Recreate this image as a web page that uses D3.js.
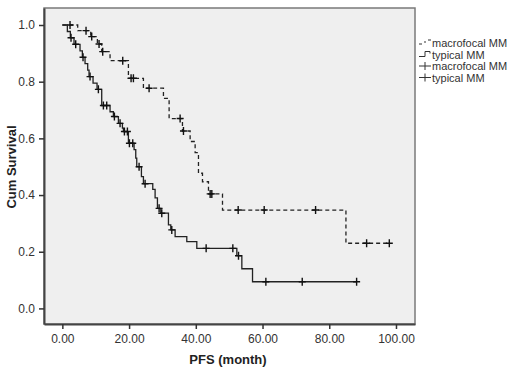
<!DOCTYPE html>
<html>
<head>
<meta charset="utf-8">
<script src="https://cdn.jsdelivr.net/npm/d3@7"></script>
<style>
body { margin: 0; background: #fff; }
text { font-family: Arial, "Liberation Sans", sans-serif; }
</style>
</head>
<body>
<script>
// typical MM: step times (months) and survival after each step
var typicalTimes = [0, 1.5, 2.4, 3.5, 5.3, 6.0, 6.8, 7.6, 8.0, 9.2, 10.4, 11.8, 14.3, 15.3, 16.8, 18.0, 18.3, 19.8, 21.5, 22.0, 22.3, 23.7, 24.3, 27.1, 27.8, 28.5, 29.5, 31.8, 32.5, 33.8, 37.3, 40.3, 52.3, 53.8, 57.0];
var typicalSurv = [1, 0.977, 0.955, 0.932, 0.909, 0.886, 0.864, 0.841, 0.818, 0.795, 0.773, 0.716, 0.694, 0.677, 0.653, 0.636, 0.624, 0.583, 0.56, 0.53, 0.50, 0.465, 0.44, 0.42, 0.39, 0.353, 0.336, 0.295, 0.277, 0.253, 0.236, 0.212, 0.186, 0.14, 0.094];
var typicalCensor = [2.6, 4.0, 6.2, 8.3, 10.8, 12.3, 13.3, 15.6, 17.3, 18.6, 19.5, 20.1, 21.1, 23.0, 24.8, 29.0, 29.8, 32.8, 43.1, 51.1, 52.8, 61.0, 71.9, 88.2];

// macrofocal MM
var macroTimes = [0, 4.6, 8.5, 10.5, 11.8, 14.3, 19.8, 24.3, 30.3, 32.0, 36.0, 38.3, 39.8, 40.8, 42.0, 43.8, 48.0, 85.0];
var macroSurv = [1, 0.98, 0.959, 0.933, 0.906, 0.874, 0.812, 0.777, 0.741, 0.67, 0.626, 0.589, 0.55, 0.477, 0.447, 0.404, 0.347, 0.23];
var macroCensor = [2.3, 7.1, 8.8, 11.0, 12.1, 18.1, 20.6, 21.3, 26.0, 35.3, 36.3, 44.3, 44.8, 52.7, 60.5, 75.9, 91.2, 98.0];

var xTicks = [0, 20, 40, 60, 80, 100];
var yTicks = [0, 0.2, 0.4, 0.6, 0.8, 1.0];
var legendLabels = ["macrofocal MM", "typical MM", "macrofocal MM", "typical MM"];

var w = 520;
var h = 373;
var plotL = 44, plotR = 415, plotT = 8, plotB = 324;

var svg = d3.select("body")
			.append("svg")
			.attr("width", w)
			.attr("height", h);

var xScale = d3.scaleLinear()
				.domain([-5.5, 105.7])
				.range([plotL, plotR]);

var yScale = d3.scaleLinear()
				.domain([-0.055, 1.06])
				.range([plotB, plotT]);

// plot background
svg.append("rect")
	.attr("x", plotL)
	.attr("y", plotT)
	.attr("width", plotR - plotL)
	.attr("height", plotB - plotT)
	.attr("fill", "#efefef")
	.attr("stroke", "#7a7a7a")
	.attr("stroke-width", 1.5);

var xAxis = d3.axisBottom(xScale)
				.tickValues(xTicks)
				.tickFormat(d3.format(".2f"))
				.tickSize(5)
				.tickSizeOuter(0);

var yAxis = d3.axisLeft(yScale)
				.tickValues(yTicks)
				.tickFormat(d3.format(".1f"))
				.tickSize(5)
				.tickSizeOuter(0);

var gx = svg.append("g")
	.attr("transform", "translate(0," + plotB + ")")
	.call(xAxis);

var gy = svg.append("g")
	.attr("transform", "translate(" + plotL + ",0)")
	.call(yAxis);

[gx, gy].forEach(function(g){
	g.select(".domain").attr("stroke", "#444").attr("stroke-width", 2);
	g.selectAll(".tick line").attr("stroke", "#333").attr("stroke-width", 1.5);
	g.selectAll(".tick text").attr("fill", "#333").attr("font-size", 12)
		.attr("font-family", "Arial, 'Liberation Sans', sans-serif");
});
gx.selectAll(".tick text").attr("dy", "0.9em");
gy.selectAll(".tick text").attr("dx", "-1px");

function stepPoints(times, surv, end){
	var pts = times.map(function(t, i){ return [t, surv[i]]; });
	pts.push([end, surv[surv.length - 1]]);
	return pts;
}

function survAt(times, surv, t){
	var s = 1;
	for (var i = 0; i < times.length; i++){
		if (times[i] <= t) s = surv[i];
	}
	return s;
}

var line = d3.line()
			.x(function(d){ return xScale(d[0]); })
			.y(function(d){ return yScale(d[1]); })
			.curve(d3.curveStepAfter);

var series = [
	{times: macroTimes, surv: macroSurv, censor: macroCensor, dash: "4,3"},
	{times: typicalTimes, surv: typicalSurv, censor: typicalCensor, dash: null}
];

series.forEach(function(s){
	var end = d3.max(s.censor);
	svg.append("path")
		.datum(stepPoints(s.times, s.surv, end))
		.attr("d", line)
		.attr("fill", "none")
		.attr("stroke", "#222")
		.attr("stroke-width", 1.3)
		.attr("stroke-dasharray", s.dash);

	svg.selectAll(null)
		.data(s.censor)
		.enter()
		.append("path")
		.attr("d", function(t){
			var cx = xScale(t), cy = yScale(survAt(s.times, s.surv, t));
			return "M" + (cx - 3.5) + "," + cy + "H" + (cx + 3.5) + "M" + cx + "," + (cy - 4) + "V" + (cy + 4);
		})
		.attr("stroke", "#111")
		.attr("stroke-width", 1.4)
		.attr("fill", "none");
});

// axis titles
svg.append("text")
	.attr("x", 228)
	.attr("y", 364)
	.text("PFS (month)")
	.attr("text-anchor", "middle")
	.attr("font-size", 13)
	.attr("font-weight", "bold")
	.attr("fill", "#222");

svg.append("text")
	.attr("x", 0)
	.attr("y", 0)
	.text("Cum Survival")
	.attr("text-anchor", "middle")
	.attr("font-size", 13)
	.attr("font-weight", "bold")
	.attr("fill", "#222")
	.attr("transform", "translate(16,167) rotate(-90)");

// legend
var lg = svg.append("g").attr("transform", "translate(419,0)");
var rowY = [43, 54.5, 66, 77.5];
lg.selectAll("text")
	.data(legendLabels)
	.enter()
	.append("text")
	.attr("x", 13)
	.attr("y", function(d, i){ return rowY[i] + 4; })
	.text(function(d){ return d; })
	.attr("font-size", 11)
	.attr("fill", "#333");

lg.append("path")
	.attr("d", "M0," + (rowY[0] + 1) + "H3M6," + (rowY[0] - 2) + "V" + rowY[0] + "M9," + (rowY[0] - 3) + "H12")
	.attr("stroke", "#333").attr("fill", "none");
lg.append("path")
	.attr("d", "M0," + (rowY[1] + 2) + "H6V" + (rowY[1] - 3) + "H11V" + (rowY[1] - 1))
	.attr("stroke", "#333").attr("fill", "none");
[2, 3].forEach(function(i){
	lg.append("path")
		.attr("d", "M0," + rowY[i] + "H12M6," + (rowY[i] - 4) + "V" + (rowY[i] + 4))
		.attr("stroke", "#333").attr("fill", "none");
});
</script>
</body>
</html>
